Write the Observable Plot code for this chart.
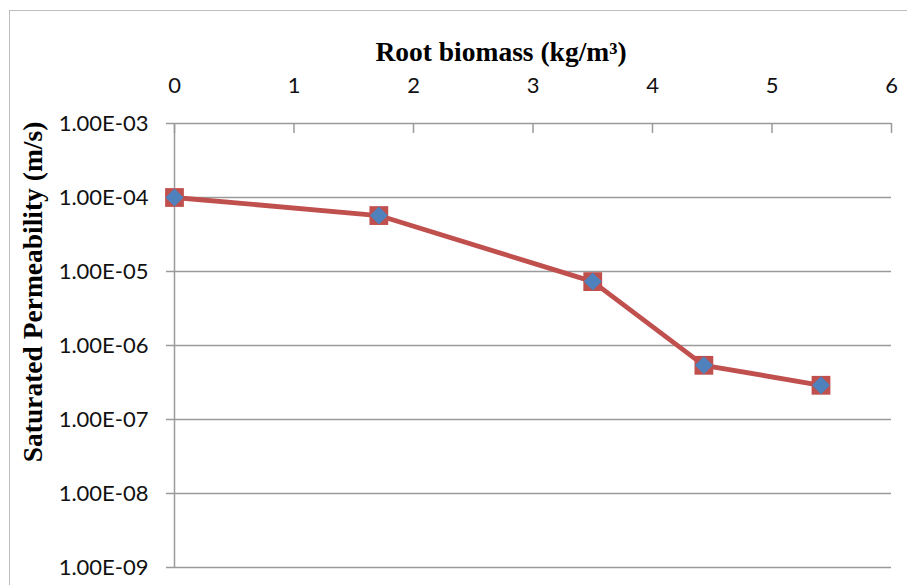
<!DOCTYPE html>
<html>
<head>
<meta charset="utf-8">
<script src="https://cdn.jsdelivr.net/npm/d3@7"></script>
<script src="https://cdn.jsdelivr.net/npm/@observablehq/plot@0.6"></script>
<style>
  html, body { margin: 0; padding: 0; background: #fff; overflow: hidden; }
  #wrap { position: relative; width: 907px; height: 585px; }
  #frame { position: absolute; left: 9px; top: 10px; width: 1200px; height: 1200px; border: 1.5px solid #bdbdbd; box-sizing: border-box; }
  #chart { position: absolute; left: 0; top: 0; }
  .title { position: absolute; font-family: 'Liberation Serif', 'DejaVu Serif', serif; font-weight: bold; font-size: 27.5px; color: #000; white-space: nowrap; line-height: 1; }
  #xtitle { left: 501px; top: 52px; transform: translate(-50%, -50%); }
  #ytitle { left: 33px; top: 292px; transform: translate(-50%, -50%) rotate(-90deg); }
</style>
</head>
<body>
<div id="wrap"><div id="frame"></div><div id="chart"></div>
<div class="title" id="xtitle"></div><div class="title" id="ytitle"></div></div>
<script>
// Data
const rootBiomass = [0, 1.71, 3.5, 4.43, 5.41];           // kg/m³
const permeability = [1.0e-4, 5.7e-5, 7.3e-6, 5.4e-7, 2.9e-7]; // m/s
const xTicks = [0, 1, 2, 3, 4, 5, 6];
const yTicks = [1e-9, 1e-8, 1e-7, 1e-6, 1e-5, 1e-4, 1e-3];
const yTickLabels = ["1.00E-09", "1.00E-08", "1.00E-07", "1.00E-06", "1.00E-05", "1.00E-04", "1.00E-03"];
const xTitle = "Root biomass (kg/m³)";
const yTitle = "Saturated Permeability (m/s)";

document.getElementById("xtitle").textContent = xTitle;
document.getElementById("ytitle").textContent = yTitle;

const data = rootBiomass.map((x, i) => ({x, y: permeability[i]}));

const red = "#c0504d", blue = "#4f81bd", grid = "#9a9a9a";
const tickFont = "Lato, 'Open Sans', sans-serif";

const W = 907, H = 585, mTop = 123, mLeft = 174, mRight = 16, mBottom = 18;
const plotH = H - mTop - mBottom;

const chart = Plot.plot({
  width: W, height: H,
  marginTop: mTop, marginLeft: mLeft, marginRight: mRight, marginBottom: mBottom,
  style: {background: "transparent", fontFamily: tickFont, fontSize: "22px", color: "#111"},
  x: {domain: [0, 6]},
  y: {type: "log", domain: [1e-9, 1e-3]},
  marks: [
    Plot.ruleY(yTicks, {stroke: grid, strokeWidth: 1.5}),
    Plot.ruleX([0], {stroke: grid, strokeWidth: 1.5}),
    Plot.tickX(xTicks, {x: d => d, stroke: grid, strokeWidth: 1.5, insetBottom: plotH - 10}),
    Plot.axisX(xTicks, {anchor: "top", tickSize: 0, tickPadding: 31, label: null, tickFormat: d3.format("d"),
      fontSize: 22, fontFamily: tickFont}),
    Plot.axisY(yTicks, {anchor: "left", tickSize: 8, tickPadding: 18, stroke: grid, strokeWidth: 1.5, label: null,
      tickFormat: (d) => yTickLabels[yTicks.indexOf(d)], fontSize: 22, fontFamily: tickFont}),
    Plot.line(data, {x: "x", y: "y", stroke: red, strokeWidth: 4.8}),
    Plot.dot(data, {x: "x", y: "y", symbol: "square", r: 10.6, fill: red, stroke: null}),
    Plot.dot(data, {x: "x", y: "y", symbol: "diamond2", r: 8.1, fill: blue, stroke: null})
  ]
});
document.getElementById("chart").appendChild(chart);
</script>
</body>
</html>
